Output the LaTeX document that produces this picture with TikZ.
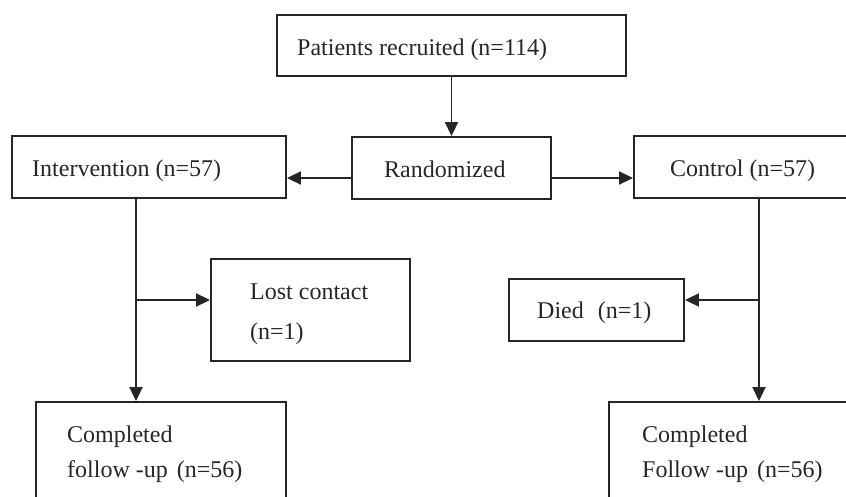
\documentclass[tikz,border=0pt]{standalone}
\usepackage{fontspec}
\setmainfont{Liberation Serif}
\usetikzlibrary{arrows.meta}
\begin{document}
\begin{tikzpicture}[x=1pt,y=-1pt,
  box/.style={draw=black!85, line width=1.9pt, rectangle, inner sep=0pt},
  arr/.style={draw=black!85, line width=1.9pt, -{Triangle[length=14pt,width=13pt]}},
  lbl/.style={anchor=base west, inner sep=0pt, font=\fontsize{24}{28}\selectfont, text=black!85}]
\useasboundingbox (0,0) rectangle (846,496);
% boxes (from corner coordinates)
\node[box, minimum width=349pt, minimum height=61pt] (top) at (451.5,45.5) {};
\node[box, minimum width=199pt, minimum height=62pt] (rand) at (451.5,168) {};
\node[box, minimum width=274pt, minimum height=62pt] (interv) at (149,167) {};
\node[box, minimum width=226pt, minimum height=62pt] (ctrl) at (747,167) {};
\node[box, minimum width=199pt, minimum height=102pt] (lost) at (310.5,310) {};
\node[box, minimum width=175pt, minimum height=62pt] (died) at (596.5,310) {};
\node[box, minimum width=250pt, minimum height=110pt] (botL) at (161,457) {};
\node[box, minimum width=250pt, minimum height=110pt] (botR) at (734,457) {};
% texts
\node[lbl] (ttop) at (297,55) {Patients recruited (n=114)};
\node[lbl] (trand) at (384,177) {Randomized};
\node[lbl] (tint) at (32,176) {Intervention (n=57)};
\node[lbl] (tctrl) at (670,176) {Control (n=57)};
\node[lbl] (tlost1) at (250,299) {Lost contact};
\node[lbl] (tlost2) at (250,339) {(n=1)};
\node[lbl] (tdied) at (537,318) {Died\hspace{8pt} (n=1)};
\node[lbl] (tbl1) at (67,442) {Completed};
\node[lbl] (tbl2) at (67,477) {follow -up\hspace{3pt} (n=56)};
\node[lbl] (tbr1) at (642,442) {Completed};
\node[lbl] (tbr2) at (642,477) {Follow -up\hspace{3pt} (n=56)};
% helper coordinates
\coordinate (ry) at (0,178);
\coordinate (by) at (0,300);
\coordinate (lx) at (136,0);
\coordinate (rx) at (759,0);
% connectors
\draw[arr] (top.south) -- (rand.north);
\draw[arr] (ry -| rand.west) -- (ry -| interv.east);
\draw[arr] (ry -| rand.east) -- (ry -| ctrl.west);
\draw[arr] (lx |- interv.south) -- (lx |- botL.north);
\draw[arr] (lx |- by) -- (by -| lost.west);
\draw[arr] (rx |- ctrl.south) -- (rx |- botR.north);
\draw[arr] (rx |- by) -- (by -| died.east);
\end{tikzpicture}
\end{document}
